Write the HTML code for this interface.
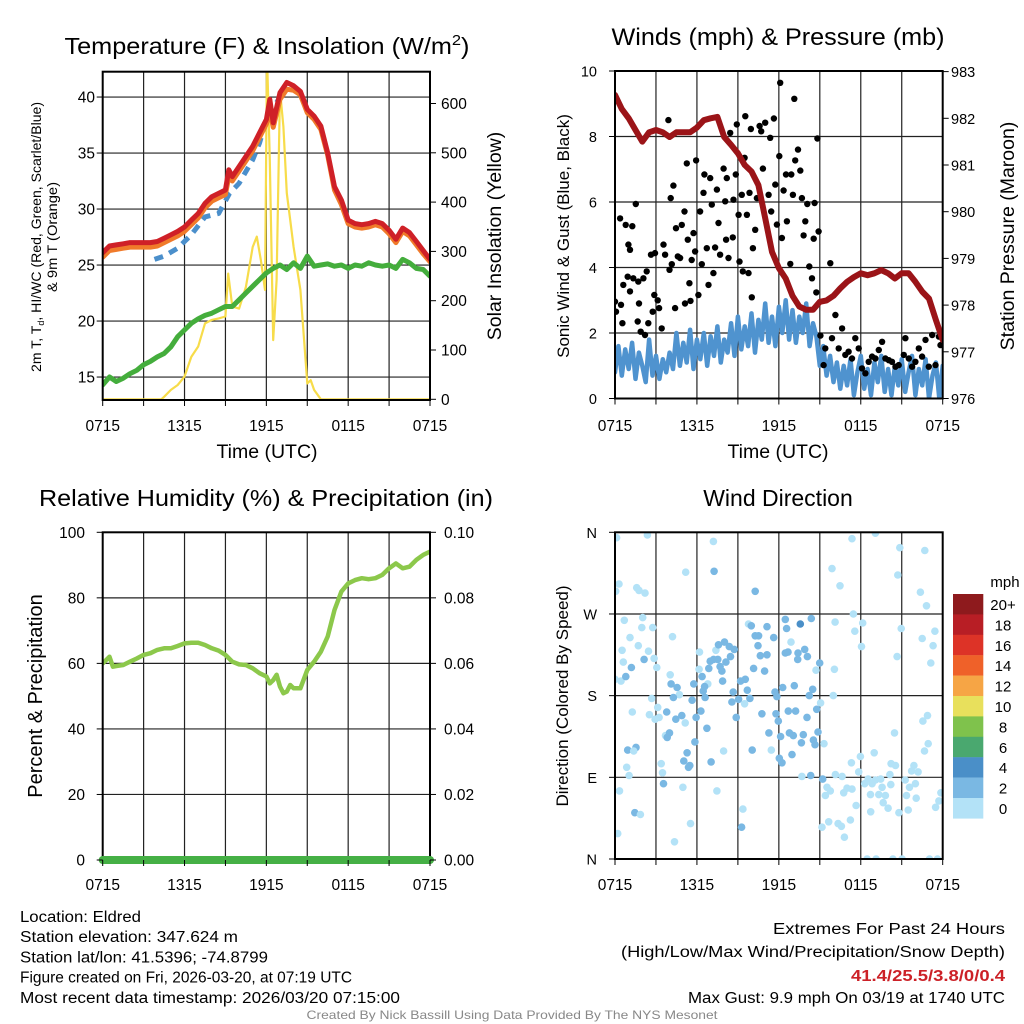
<!DOCTYPE html>
<html><head><meta charset="utf-8">
<style>
html,body{margin:0;padding:0;background:#fff;}
svg{display:block;font-family:"Liberation Sans",Arial,sans-serif;}
</style></head>
<body>
<svg id="fig" width="1024" height="1024" viewBox="0 0 1024 1024" xmlns="http://www.w3.org/2000/svg">
<defs>
<clipPath id="c1"><rect x="102.7" y="71.7" width="327.3" height="328.3"/></clipPath>
<clipPath id="c2"><rect x="615" y="71" width="327.7" height="327.5"/></clipPath>
<clipPath id="c3"><rect x="102.7" y="532.3" width="327.3" height="327.7"/></clipPath>
<clipPath id="c4"><rect x="615" y="532.3" width="327.7" height="326.7"/></clipPath>
</defs>
</svg>
<script>
// ---------- DATA ----------
const redTimes=[0,0.5,1,1.5,2,2.5,3,3.5,4,4.5,5,5.5,6,6.5,7,7.5,8,8.5,9,9.25,9.5,10,10.5,11,11.5,12,12.25,12.5,13,13.5,14,14.5,15,15.5,16,16.5,17,17.5,18,18.5,19,19.5,20,20.5,21,21.5,22,22.5,23,23.5,24];
const redTemp=[26.1,26.7,26.8,26.9,27.0,27.0,27.0,27.0,27.1,27.4,27.7,28.0,28.4,29.0,29.6,30.5,31.1,31.4,31.7,33.5,32.9,33.8,34.7,35.6,36.8,38.0,39.8,37.7,40.4,41.3,41.0,40.5,38.9,38.3,37.4,35.0,32.0,30.8,29.0,28.7,28.6,28.7,28.9,28.7,28.1,27.3,28.3,27.9,27.1,26.3,25.5];
const orangeTemp=[25.7,26.3,26.4,26.5,26.6,26.6,26.6,26.6,26.7,27.0,27.3,27.6,28.0,28.6,29.2,30.1,30.7,31.0,31.3,32.9,32.5,33.4,34.3,35.2,36.4,37.6,38.8,37.3,39.8,40.7,40.6,40.2,38.6,38.0,37.1,34.8,31.7,30.4,28.7,28.4,28.3,28.4,28.6,28.4,27.8,27.0,28.0,27.6,26.8,26.0,25.3];
const wcTimes=[3.8,4.5,5.5,6.5,7.5,8.5,9.3,10,11,11.5,12,13];
const wcTemp=[25.5,25.8,26.5,27.7,29.3,29.6,31.4,32.3,34.4,35.9,38.0,40.0];
const dewTimes=[0,0.5,1,1.5,2,2.5,3,3.5,4,4.5,5,5.5,6,6.5,7,7.5,8,8.5,9,9.5,10,10.5,11,11.5,12,12.5,13,13.5,14,14.5,15,15.5,16,16.5,17,17.5,18,18.5,19,19.5,20,20.5,21,21.5,22,22.5,23,23.5,24];
const dewTemp=[14.3,15.0,14.6,14.9,15.3,15.6,16.1,16.4,16.8,17.1,17.7,18.6,19.2,19.8,20.2,20.5,20.7,21.0,21.3,21.3,21.9,22.5,23.1,23.7,24.3,24.7,25.0,24.6,25.2,24.7,25.8,24.9,25.0,25.1,24.9,25.0,24.7,25.0,24.9,25.2,25.0,24.9,25.0,24.7,25.5,25.2,24.7,24.6,24.0];
const solTimes=[0,4.3,4.5,5,5.5,6,6.5,7,7.5,8,8.5,9,9.2,9.5,10,10.5,11,11.3,11.6,11.9,12.05,12.25,12.5,12.75,13,13.25,13.5,13.75,14,14.5,15,15.25,15.5,16,24];
const solValues=[0,0,5,19,29,46,86,107,154,161,164,168,255,188,184,228,309,330,282,222,700,485,120,242,627,553,418,364,309,222,32,39,19,0,0];
const tempTicks=[15,20,25,30,35,40];
const solTicks=[0,100,200,300,400,500,600];
const timeTickLabels=["0715","1315","1915","0115","0715"];

const presTimes=[0,0.5,1,1.5,2,2.5,3,3.5,4,4.5,5,5.5,6,6.5,7,7.5,8,8.5,9,9.5,10,10.5,11,11.5,12,12.5,13,13.5,14,14.5,15,15.5,16,16.5,17,17.5,18,18.5,19,19.5,20,20.5,21,21.5,22,22.5,23,23.5,24];
const presValues=[982.5,982.2,982.0,981.75,981.5,981.7,981.75,981.7,981.6,981.7,981.7,981.7,981.8,981.96,982.0,982.03,981.6,981.43,981.25,981.0,980.86,980.57,979.86,979.14,978.79,978.57,978.2,977.97,977.9,977.9,978.07,978.1,978.2,978.36,978.5,978.6,978.68,978.64,978.68,978.75,978.68,978.57,978.68,978.68,978.5,978.29,978.14,977.68,977.25];
const windSpeed=[0.8,1.6,0.7,1.5,0.9,1.7,0.6,1.4,1.0,0.5,1.8,0.7,1.3,0.6,1.2,0.8,1.4,
0.9,2.0,1.0,1.7,1.1,2.1,0.9,1.8,1.2,2.0,1.0,1.9,1.3,2.2,1.1,1.8,
1.4,2.3,1.3,2.5,1.5,2.2,1.6,2.6,1.4,2.4,1.8,2.9,1.7,2.5,1.6,2.8,
2.0,3.0,1.8,2.7,1.7,2.5,2.0,2.9,1.6,2.3,1.9,1.0,1.6,0.7,1.3,0.5,
1.1,0.3,1.0,0.4,1.2,0.1,0.8,1.3,0.3,0.9,0.1,1.1,0.5,1.3,0.2,0.9,
0.1,1.0,0.4,1.2,0.2,0.8,1.3,0.1,0.9,0.4,1.2,0.0,0.7,1.1,0.0,1.0];
const gustTimes=[0,0.07,0.37,0.44,0.54,0.61,0.78,0.93,0.98,1.1,1.1,1.27,1.34,1.52,1.66,1.71,1.76,1.88,2.08,2.2,2.32,2.44,2.64,2.76,2.88,2.93,3.13,3.23,3.42,3.55,3.67,3.91,3.99,4.08,4.16,4.28,4.4,4.47,4.6,4.77,4.89,5.09,5.13,5.26,5.33,5.45,5.53,5.62,5.75,5.87,5.94,6.11,6.23,6.36,6.48,6.55,6.72,6.85,6.97,7.09,7.21,7.33,7.46,7.58,7.7,7.95,8.07,8.14,8.19,8.31,8.44,8.63,8.68,8.85,8.92,9.05,9.12,9.29,9.36,9.49,9.54,9.66,9.78,9.85,9.95,10.02,10.1,10.27,10.39,10.59,10.71,10.83,11.0,11.25,11.37,11.44,11.64,11.74,11.86,12.03,12.1,12.22,12.35,12.52,12.59,12.84,12.91,13.03,13.13,13.2,13.4,13.57,13.69,13.81,13.94,14.08,14.23,14.43,14.55,14.62,14.74,14.82,14.91,15.04,15.28,15.4,15.77,15.89,16.14,16.38,16.63,16.87,17.11,17.36,17.6,17.85,18.09,18.34,18.58,18.83,19.07,19.32,19.56,19.8,20.05,20.29,20.54,20.78,21.15,21.27,21.52,21.76,22.0,22.25,22.49,22.74,22.98,23.23,23.47,23.72,23.84];
const gustValues=[2.96,2.65,5.5,2.86,2.3,3.47,5.3,3.72,4.7,4.54,3.27,5.26,3.67,5.94,2.35,3.57,2.9,2.04,3.67,1.94,3.88,2.3,4.39,2.65,3.16,4.44,3.0,2.76,2.14,4.7,4.39,8.5,3.93,6.12,4.1,6.5,2.76,5.2,4.34,4.29,5.3,5.71,2.9,7.18,4.85,3.52,2.98,4.23,5.05,4.49,7.27,3.16,5.71,4.1,6.28,6.84,4.59,3.47,6.73,5.92,3.83,4.61,6.38,5.36,4.39,7.02,6.02,4.85,6.73,4.29,8.11,4.92,6.07,6.84,8.37,5.61,4.18,6.22,3.88,7.35,8.62,5.61,3.83,6.28,8.23,3.09,4.59,5.15,6.12,8.32,8.16,7.02,8.42,6.22,7.96,5.71,8.55,6.53,5.31,7.4,9.64,4.9,6.35,6.84,5.41,4.11,6.84,6.22,9.15,7.27,7.6,6.96,6.12,4.98,5.41,5.94,4.03,3.67,4.88,5.97,3.24,7.94,5.1,1.92,1.02,1.53,4.13,1.84,2.55,1.53,2.14,1.33,1.43,1.22,1.84,1.53,0.92,0.77,1.12,1.28,1.22,1.48,1.73,1.22,1.17,1.12,0.97,1.02,1.33,1.84,1.22,0.97,1.12,1.53,1.28,1.79,0.97,1.94,1.02,1.89,1.63];
const windTicks=[0,2,4,6,8,10];
const presTicks=[976,977,978,979,980,981,982,983];

const rhTimes=[0,0.5,0.75,1,1.5,2,2.5,3,3.5,4,4.5,5,5.5,6,6.5,7,7.5,8,8.5,9,9.5,10,10.5,11,11.5,12,12.25,12.5,12.75,13,13.25,13.5,13.75,14,14.5,15,15.5,16,16.5,17,17.5,18,18.5,19,19.5,20,20.5,21,21.5,22,22.5,23,23.5,24];
const rhValues=[60,62,59,59.2,59.5,60.5,61.5,62.6,63.1,64.1,64.6,64.6,65.3,66.1,66.3,66.3,65.6,64.6,63.9,62.6,60.5,59.7,59.5,58.5,57,56,53.9,54.9,56.5,52.9,50.9,51.4,53.4,52.4,52.4,58,60.5,63.6,68.2,76.3,81.9,84.4,85.4,86,85.7,86,87,89,90.5,89,89.5,91.6,93.1,94.1];
const precipTimes=[0,24];
const precipValues=[0,0];
const rhTicks=[0,20,40,60,80,100];
const precipTicks=["0.00","0.02","0.04","0.06","0.08","0.10"];

const dirTimes=[0.12,2.37,7.21,5.18,7.26,0.29,0.05,1.59,1.76,2.2,10.27,17.36,19.07,20.86,22.69,15.89,16.48,20.71,22.37,22.81,0.68,2.03,1.96,2.76,1.1,4.21,1.71,0.52,2.45,2.13,2.86,0.61,3.06,1.2,0,0.44,0.79,4.04,6.19,7.39,9.78,9.98,11.13,11.62,10.27,10.52,10.47,12.47,12.57,13.57,14.38,12.89,7.58,8.02,8.37,8.73,8.46,7.22,6.97,7.53,8.12,7.7,7.83,6.87,6.16,6.38,5.77,6.8,6.56,10.64,11.13,10.15,10.96,12.47,12.67,13.4,13.89,14.09,13.38,14.72,14.99,16.07,16.12,17.46,18.14,17.56,18.05,20.96,20.66,22.5,23.43,23.3,23.13,4.11,4.55,4.72,4.28,2.69,3.13,3.23,3.79,4.89,4.45,2.94,2.52,1.27,5.14,5.65,6.46,6.6,5.94,6.29,6.73,7.88,8.66,9.2,9.54,9.69,9.88,9.05,8.56,9.49,8.88,11.72,11.86,12.28,13.13,14.48,14.23,15.06,14.77,12.69,13.23,11.79,14.06,11.96,10.76,11.27,12.13,12.77,13.06,13.79,13.65,14.53,14.65,14.87,15.31,15.99,11.45,12.96,12.03,12.23,10.05,7.95,7.04,5.28,5.85,5.04,5.38,5.48,3.7,3.82,3.99,1.54,0.93,1.37,3.38,3.48,0.86,1.03,0.33,3.55,4.97,7.46,9.37,9.27,1.45,1.86,0.2,4.36,5.53,13.69,14.33,15.21,15.53,15.41,15.77,16.14,16.63,16.99,16.75,17.36,17.31,17.97,17.85,18.29,18.54,18.83,19.07,18.98,18.71,19.32,19.56,19.8,19.64,20.0,19.46,20.22,20.54,20.13,20.2,20.79,21.25,21.57,21.35,21.72,21.89,22.2,22.0,22.06,21.47,22.94,22.67,20.47,22.55,22.89,23.87,23.72,23.48,15.16,15.65,16.34,16.58,17.24,16.8,17.66,18.73,18.46,19.12,20.35,21.03,23.03,23.62];
const dirValues=[354,357,350,316,317,303,295,299,296,293,295,353,359,343,340,320,301,313,294,279,263,266,255,255,244,245,235,230,229,220,221,217,211,211,198,196,201,203,228,230,259,257,256,244,246,246,235,264,254,259,265,239,236,239,234,231,223,220,218,220,217,212,207,210,209,201,193,193,190,224,225,210,207,227,228,227,231,223,220,208,216,209,261,270,260,251,234,254,223,243,251,235,216,193,189,181,178,177,167,156,162,158,154,154,159,162,150,175,185,178,156,163,144,196,184,196,198,186,177,176,173,171,156,184,179,189,191,187,180,172,165,163,163,160,156,152,160,139,135,139,136,137,128,131,126,140,127,180,120,115,111,106,120,119,107,117,129,108,101,103,136,134,139,123,120,119,105,95,101,92,75,83,79,75,55,35,51,49,28,19,39,91,92,88,79,70,75,93,91,78,73,77,106,113,96,83,88,83,87,117,71,71,79,70,62,56,88,105,103,93,82,51,87,79,70,97,103,96,83,67,54,127,119,139,152,158,73,64,57,35,41,39,36,43,24,59,52,0,0,0,0,0,0];
const dirSpeeds=[1,1,1,1,3,1,1,1,1,1,3,1,1,1,1,1,1,1,1,1,1,1,1,1,1,1,1,1,1,3,1,1,1,3,1,1,3,1,1,1,1,3,3,3,3,3,3,3,3,5,3,1,3,3,3,3,3,3,3,3,3,3,3,3,1,3,3,1,3,3,3,3,3,3,3,3,3,3,3,1,3,1,1,1,1,1,1,1,1,1,1,1,1,3,3,1,3,1,1,1,3,3,3,1,1,1,1,3,3,3,3,3,3,3,3,3,3,3,3,3,3,1,3,3,3,3,3,3,3,1,3,3,3,3,3,3,3,3,3,3,3,3,3,3,3,3,1,1,1,3,3,3,3,1,3,3,3,3,3,3,1,3,3,3,3,1,1,1,1,1,1,3,1,1,1,3,3,1,1,1,1,1,3,3,1,1,1,1,1,1,1,1,1,1,1,1,1,1,1,1,1,1,1,1,1,1,1,1,1,1,1,1,1,1,1,1,1,1,1,1,1,1,1,1,1,1,1,1,1,1,1,1,1,1,1,1,1,1,1,1,1,1,1,1,1];
const dirTickLabels=["N","E","S","W","N"];
const cbLabels=["20+","18","16","14","12","10","8","6","4","2","0"];
const cbColors=["#8e1a1d","#b81e25","#dd3327","#ef6129","#f6a545","#e8e05c","#7fc24c","#4aa86f","#4a8fc8","#7ab8e3","#b3e2f7"];

// ---------- HELPERS ----------
const NS="http://www.w3.org/2000/svg";
const svg=document.getElementById('fig');
function mk(tag,attrs,parent){const e=document.createElementNS(NS,tag);for(const k in attrs)e.setAttribute(k,attrs[k]);(parent||svg).appendChild(e);return e;}
function txt(s,x,y,size,anchor,extra){const e=mk('text',Object.assign({x:x,y:y,'font-size':size,'text-anchor':anchor||'middle',fill:'#000'},extra||{}));e.textContent=s;return e;}
function pathD(ts,vs,fx,fy){let d='';for(let i=0;i<ts.length;i++){d+=(i?'L':'M')+fx(ts[i]).toFixed(1)+','+fy(vs[i]).toFixed(1);}return d;}
const xL=t=>102.7+t*(327.3/24);
const xR=t=>615+t*(327.7/24);

function frame(x0,y0,x1,y1,name,gridXs,gridYs){
  const g=mk('g',{});
  
  
  gridXs.forEach(x=>{const l=mk('line',{x1:x,y1:y0,x2:x,y2:y1,stroke:'#222','stroke-width':1.2},g);});
  gridYs.forEach(y=>{const l=mk('line',{x1:x0,y1:y,x2:x1,y2:y,stroke:'#222','stroke-width':1.2},g);});
  return g;
}
function border(x0,y0,x1,y1,name){const r=mk('rect',{x:x0,y:y0,width:x1-x0,height:y1-y0,fill:'none',stroke:'#000','stroke-width':2});}
function xTicks(fx,yb,labY){
  for(let h=0;h<=24;h+=3){const x=fx(h);const t=mk('line',{x1:x,y1:yb,x2:x,y2:yb+6,stroke:'#000','stroke-width':1});}
  timeTickLabels.forEach((s,i)=>{const e=txt(s,fx(i*6),labY,15.5);});
}
function yTicks(vals,labels,fy,xAxis,side,labX,size){
  vals.forEach((v,i)=>{const y=fy(v);const dx=side==='left'?-6:6;
    const t=mk('line',{x1:xAxis,y1:y,x2:xAxis+dx,y2:y,stroke:'#000','stroke-width':1});
    const e=txt(labels[i],labX,y+5.5,size||15.5,side==='left'?'end':'start');});
}
function line(ts,vs,fx,fy,color,w,clip,name,extra){const p=mk('path',Object.assign({d:pathD(ts,vs,fx,fy),fill:'none',stroke:color,'stroke-width':w,'stroke-linejoin':'round','stroke-linecap':'round','clip-path':clip},extra||{}));return p;}

// ---------- PANEL 1: Temperature ----------
const yT=v=>400-(v-12.95)*11.2;
const yS=v=>399.3-v*0.493;
frame(102.7,71.7,430,400,'temp-grid',[3,6,9,12,15,18,21].map(xL),tempTicks.map(yT));
line(solTimes,solValues,xL,yS,'#f7dc4a',2.2,'url(#c1)','solar-insolation-line');
line(dewTimes,dewTemp,xL,yT,'#44ad3c',5,'url(#c1)','dewpoint-line');
line(wcTimes,wcTemp,xL,yT,'#4b8fcb',5,'url(#c1)','windchill-line',{'stroke-dasharray':'9 7','stroke-linecap':'butt'});
line(redTimes,orangeTemp,xL,yT,'#f07a2a',5,'url(#c1)','9m-temperature-line');
line(redTimes,redTemp,xL,yT,'#cf2027',5,'url(#c1)','2m-temperature-line');
border(102.7,71.7,430,400,'temp-plot-border');
xTicks(xL,400,431);
yTicks(tempTicks,tempTicks.map(String),yT,102.7,'left',95);
yTicks(solTicks,solTicks.map(String),yS,430,'right',441);
let e;
e=mk('text',{x:267,y:54,'font-size':23,'text-anchor':'middle',textLength:405,lengthAdjust:'spacingAndGlyphs'});e.innerHTML='Temperature (F) &amp; Insolation (W/m<tspan dy="-9" font-size="15">2</tspan><tspan dy="9">)</tspan>';

e=txt('Time (UTC)',267,458,19.5);
e=mk('text',{x:0,y:0,'font-size':14,'text-anchor':'middle',transform:'translate(41,237) rotate(-90)',textLength:270,lengthAdjust:'spacingAndGlyphs'});e.innerHTML='2m T, T<tspan font-size="9" dy="3">d</tspan><tspan dy="-3">, HI/WC (Red, Green, Scarlet/Blue)</tspan>';

e=txt('& 9m T (Orange)',0,0,14,'middle',{transform:'translate(57,237) rotate(-90)',textLength:110,lengthAdjust:'spacingAndGlyphs'});
e=txt('Solar Insolation (Yellow)',0,0,19.5,'middle',{transform:'translate(501,236) rotate(-90)'});

// ---------- PANEL 2: Winds ----------
const yW=v=>398.5-v*32.75;
const yP=p=>398.5-(p-976)*46.7;
frame(615,71,942.7,398.5,'wind-grid',[3,6,9,12,15,18,21].map(xR),windTicks.map(yW));
const windTimes=windSpeed.map((v,i)=>i*0.25);
line(windTimes,windSpeed,xR,yW,'#4f93cf',4.5,'url(#c2)','sonic-wind-line');
const gg=mk('g',{'clip-path':'url(#c2)'});


gustTimes.forEach((t,i)=>{const c=mk('circle',{cx:xR(t).toFixed(1),cy:yW(gustValues[i]).toFixed(1),r:3.2,fill:'#000'},gg);

});
line(presTimes,presValues,xR,yP,'#9b1418',6,'url(#c2)','pressure-line');
border(615,71,942.7,398.5,'wind-plot-border');
xTicks(xR,398.5,431);
yTicks(windTicks,windTicks.map(String),yW,615,'left',597,14.5);
yTicks(presTicks,presTicks.map(String),yP,942.7,'right',951,14.5);
e=txt('Winds (mph) & Pressure (mb)',778,45,24,'middle',{textLength:333,lengthAdjust:'spacingAndGlyphs'});
e=txt('Time (UTC)',778,458,19.5);
e=txt('Sonic Wind & Gust (Blue, Black)',0,0,17,'middle',{transform:'translate(569,236) rotate(-90)'});
e=txt('Station Pressure (Maroon)',0,0,19.5,'middle',{transform:'translate(1014,236) rotate(-90)'});

// ---------- PANEL 3: RH ----------
const yR=v=>860-v*3.277;
const yPr=v=>860-v*3277;
frame(102.7,532.3,430,860,'rh-grid',[3,6,9,12,15,18,21].map(xL),rhTicks.map(yR));
line(rhTimes,rhValues,xL,yR,'#8cc84b',4.5,'url(#c3)','relative-humidity-line');
border(102.7,532.3,430,860,'rh-plot-border');
line(precipTimes,precipValues,xL,yPr,'#45b045',8,'none','precipitation-line');
xTicks(xL,860,890);
yTicks(rhTicks,rhTicks.map(String),yR,102.7,'left',85);
yTicks(rhTicks,precipTicks,yR,430,'right',444);
e=txt('Relative Humidity (%) & Precipitation (in)',266,506,23,'middle',{textLength:454,lengthAdjust:'spacingAndGlyphs'});
e=txt('Percent & Precipitation',0,0,20,'middle',{transform:'translate(42,696) rotate(-90)'});

// ---------- PANEL 4: Wind direction ----------
const yD=d=>859-d*(326.7/360);
frame(615,532.3,942.7,859,'direction-grid',[3,6,9,12,15,18,21].map(xR),[90,180,270].map(yD));
const spdColor=s=>cbColors[10-Math.min(10,Math.floor(s/2))];
const dg=mk('g',{'clip-path':'url(#c4)'});


dirTimes.forEach((t,i)=>{const c=mk('circle',{cx:xR(t).toFixed(1),cy:yD(dirValues[i]).toFixed(1),r:3.8,fill:spdColor(dirSpeeds[i])},dg);

});
border(615,532.3,942.7,859,'direction-plot-border');
xTicks(xR,859,890);
yTicks([0,90,180,270,360],dirTickLabels,yD,615,'left',597,14.5);
e=txt('Wind Direction',778,506,23);
e=txt('Direction (Colored By Speed)',0,0,17,'middle',{transform:'translate(568,696) rotate(-90)'});
// colorbar
const cb=mk('g',{});


cbColors.forEach((c,i)=>{const r=mk('rect',{x:953,y:(594+i*20.4).toFixed(1),width:30.3,height:20.6,fill:c},cb);


const t=txt(cbLabels[i],1003,594+i*20.4+16,15);

});
e=txt('mph',1005,587,15);

// ---------- Footer text ----------
const leftLines=[["Location: Eldred",121],["Station elevation: 347.624 m",218],["Station lat/lon: 41.5396; -74.8799",248],["Figure created on Fri, 2026-03-20, at 07:19 UTC",332],["Most recent data timestamp: 2026/03/20 07:15:00",380]];
leftLines.forEach((l,i)=>{const t=txt(l[0],20,922+i*20.2,15.5,'start',{textLength:l[1],lengthAdjust:'spacingAndGlyphs'});

});
e=txt('Extremes For Past 24 Hours',1005,934,15.5,'end',{textLength:232,lengthAdjust:'spacingAndGlyphs'});
e=txt('(High/Low/Max Wind/Precipitation/Snow Depth)',1005,957,15.5,'end',{textLength:384,lengthAdjust:'spacingAndGlyphs'});
e=txt('41.4/25.5/3.8/0/0.4',1005,981,15.5,'end',{fill:'#cc2127','font-weight':'bold',textLength:154,lengthAdjust:'spacingAndGlyphs'});
e=txt('Max Gust: 9.9 mph On 03/19 at 1740 UTC',1005,1003,15.5,'end',{textLength:317,lengthAdjust:'spacingAndGlyphs'});
e=txt('Created By Nick Bassill Using Data Provided By The NYS Mesonet',512,1019,12,'middle',{fill:'#888',textLength:411,lengthAdjust:'spacingAndGlyphs'});
</script>
</body></html>
